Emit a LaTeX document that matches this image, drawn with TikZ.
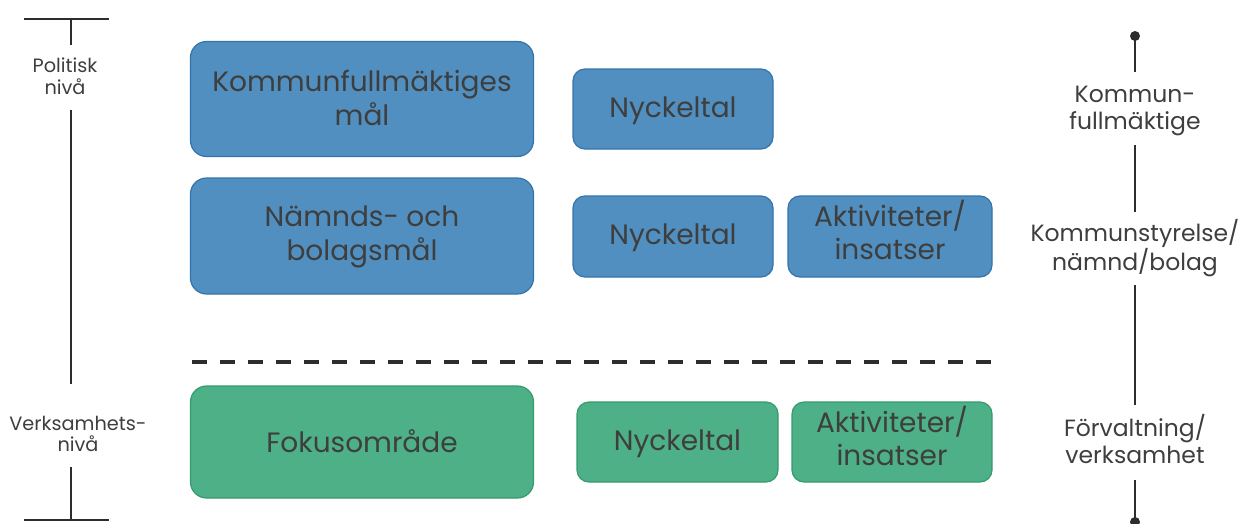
\documentclass[tikz,border=0pt]{standalone}
\usepackage{fontspec}
\setmainfont{Poppins}
\definecolor{bluefill}{RGB}{80,143,191}
\definecolor{blueedge}{RGB}{52,116,172}
\definecolor{greenfill}{RGB}{77,176,134}
\definecolor{greenedge}{RGB}{52,156,110}
\definecolor{txt}{RGB}{62,62,62}
\definecolor{linec}{RGB}{45,45,45}
\tikzset{
  box/.style={draw, line width=1.2pt, rounded corners=16pt, inner sep=0pt},
  bluebox/.style={box, fill=bluefill, draw=blueedge},
  greenbox/.style={box, fill=greenfill, draw=greenedge},
  boxtext/.style={align=center, text=txt, inner sep=0pt, anchor=base},
  big/.style={boxtext, font=\fontsize{28}{33.5}\selectfont},
  small/.style={boxtext, font=\fontsize{28}{33}\selectfont},
  leftlab/.style={boxtext, font=\fontsize{19.3}{21.7}\selectfont},
  rightlab/.style={boxtext, font=\fontsize{23.5}{27}\selectfont},
  scaleline/.style={draw=linec, line width=1.3pt},
  dot/.style={circle, fill=linec, minimum size=10pt, inner sep=0pt}
}
\begin{document}
\begin{tikzpicture}[x=1pt,y=-1pt]
\useasboundingbox (0,0) rectangle (1242,523);
% boxes
\node[bluebox, minimum width=343pt, minimum height=115pt] (kfm) at (362,99) {};
\node[bluebox, minimum width=343pt, minimum height=116pt] (nbm) at (362,236) {};
\node[greenbox, minimum width=343pt, minimum height=112pt] (fok) at (362,442) {};
\node[bluebox, minimum width=200pt, minimum height=80pt, rounded corners=12pt] (ny1) at (673,109) {};
\node[bluebox, minimum width=200pt, minimum height=81pt, rounded corners=12pt] (ny2) at (673,236.5) {};
\node[bluebox, minimum width=204pt, minimum height=81pt, rounded corners=12pt] (ak1) at (890,236.5) {};
\node[greenbox, minimum width=201pt, minimum height=80pt, rounded corners=12pt] (ny3) at (677.5,442) {};
\node[greenbox, minimum width=200pt, minimum height=80pt, rounded corners=12pt] (ak2) at (892,442) {};
% box texts (anchor = baseline of the last line)
\node[big] (kfmt) at (362,125.2) {Kommunfullmäktiges\\mål};
\node[big] (nbmt) at (362,260.2) {Nämnds- och\\bolagsmål};
\node[big] (fokt) at (362,452) {Fokusområde};
\node[small] (ny1t) at (673,117) {Nyckeltal};
\node[small] (ny2t) at (673,244) {Nyckeltal};
\node[small] (ak1t) at (890,259.7) {Aktiviteter/\\insatser};
\node[small] (ny3t) at (677.5,450.7) {Nyckeltal};
\node[small] (ak2t) at (892,465.5) {Aktiviteter/\\insatser};
% dashed separator
\coordinate (dA) at (192,362);
\coordinate (dB) at (997,362);
\draw[draw=linec, line width=3.8pt, dash pattern=on 15pt off 13pt] (dA) -- (dB);
% left scale
\coordinate (lt) at (71,19);
\coordinate (ltl) at (24,19);
\coordinate (ltr) at (109,19);
\coordinate (lb) at (71,520);
\coordinate (lbl) at (24,520);
\coordinate (lbr) at (109,520);
\coordinate (pA) at (71,45);
\coordinate (pB) at (71,110);
\coordinate (vA) at (71,384);
\coordinate (vB) at (71,467);
\node[leftlab] (pol) at (65,94.5) {Politisk\\nivå};
\node[leftlab] (ver) at (78,451.7) {Verksamhets-\\nivå};
\draw[scaleline] (ltl) -- (ltr);
\draw[scaleline] (lbl) -- (lbr);
\draw[scaleline] (lt) -- (pA);
\draw[scaleline] (pB) -- (vA);
\draw[scaleline] (vB) -- (lb);
% right scale
\node[dot] (rt) at (1135,36) {};
\node[dot] (rb) at (1135,522) {};
\node[rightlab] (kf) at (1135,129.5) {Kommun-\\fullmäktige};
\node[rightlab] (ks) at (1135,270.3) {Kommunstyrelse/\\nämnd/bolag};
\node[rightlab] (fv) at (1135,463.5) {Förvaltning/\\verksamhet};
\coordinate (r1) at (1135,72);
\coordinate (r2) at (1135,145);
\coordinate (r3) at (1135,212);
\coordinate (r4) at (1135,285);
\coordinate (r5) at (1135,405);
\coordinate (r6) at (1135,480);
\draw[scaleline] (rt.center) -- (r1);
\draw[scaleline] (r2) -- (r3);
\draw[scaleline] (r4) -- (r5);
\draw[scaleline] (r6) -- (rb.center);
\end{tikzpicture}
\end{document}
